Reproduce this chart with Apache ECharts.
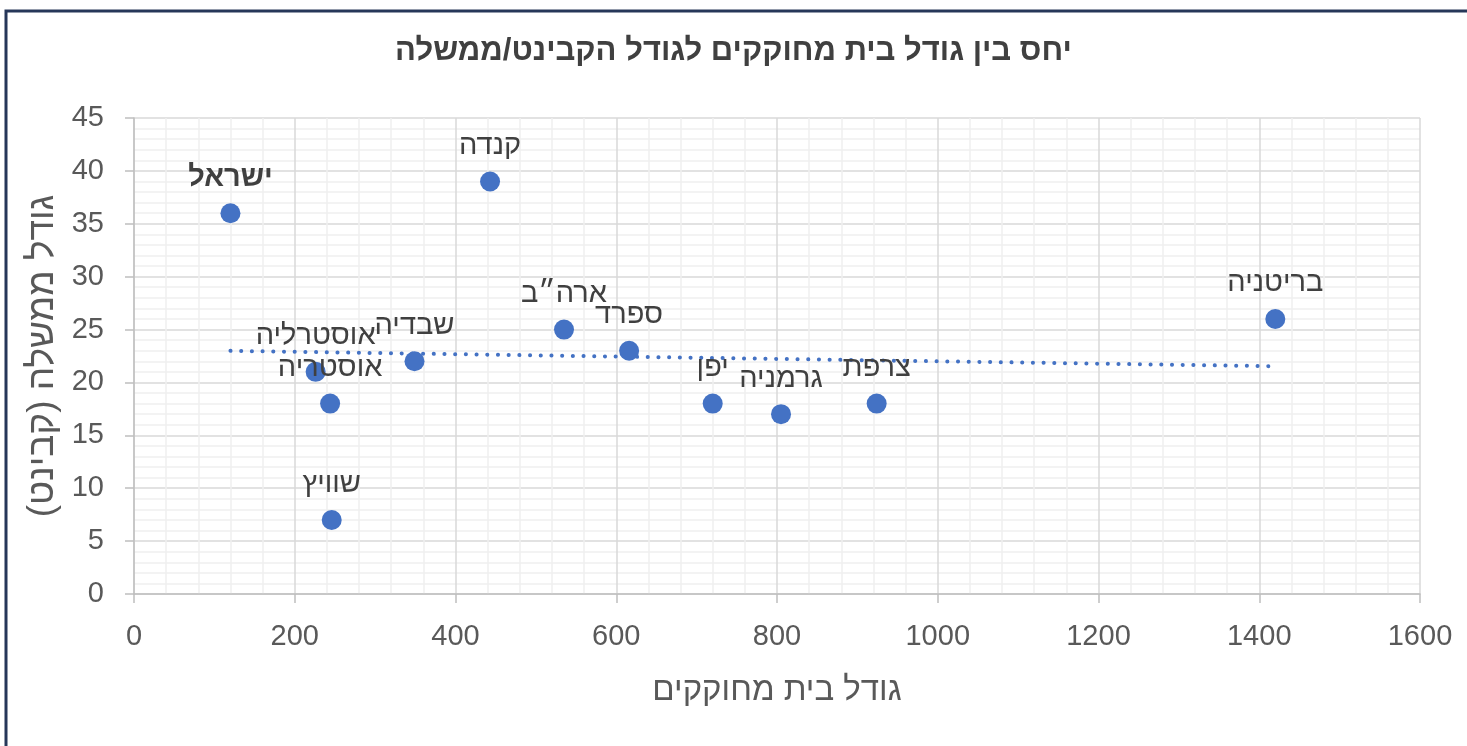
<!DOCTYPE html>
<html>
<head>
<meta charset="utf-8">
<script src="https://cdn.jsdelivr.net/npm/echarts@6/dist/echarts.min.js"></script>
<style>
  html, body { margin: 0; padding: 0; background: #ffffff; }
  #chart { width: 1467px; height: 746px; }
</style>
</head>
<body>
<div id="chart"></div>
<script>
// Countries, size of the legislature, size of the cabinet/government
const countries = ['ישראל', 'קנדה', 'ארה״ב', 'ספרד', 'יפן', 'גרמניה', 'צרפת', 'בריטניה', 'שבדיה', 'אוסטרליה', 'אוסטריה', 'שוויץ'];
const parliamentSize = [120, 443, 535, 616, 720, 805, 924, 1420, 349, 226, 244, 246];
const cabinetSize = [36, 39, 25, 23, 18, 17, 18, 26, 22, 21, 18, 7];
const highlighted = 'ישראל';

const xTicks = { min: 0, max: 1600, interval: 200 };
const yTicks = { min: 0, max: 45, interval: 5 };

const RLM = '\u200F';
const FONT = '"Liberation Sans", Arial, sans-serif';

// Least-squares linear trendline over the data range
function linearTrend(xs, ys) {
  const n = xs.length;
  const mx = xs.reduce((a, b) => a + b, 0) / n;
  const my = ys.reduce((a, b) => a + b, 0) / n;
  let sxy = 0, sxx = 0;
  for (let i = 0; i < n; i++) {
    sxy += (xs[i] - mx) * (ys[i] - my);
    sxx += (xs[i] - mx) * (xs[i] - mx);
  }
  const slope = sxy / sxx;
  const x0 = Math.min(...xs), x1 = Math.max(...xs);
  return [[x0, my + slope * (x0 - mx)], [x1, my + slope * (x1 - mx)]];
}

const points = countries.map((name, i) => ({
  name: name,
  value: [parliamentSize[i], cabinetSize[i]],
  label: name === highlighted ? { fontWeight: 'bold' } : undefined
}));

const chart = echarts.init(document.getElementById('chart'), null, { renderer: 'canvas' });

chart.setOption({
  backgroundColor: '#ffffff',
  animation: false,
  textStyle: { fontFamily: FONT },
  title: {
    text: 'יחס בין גודל בית מחוקקים לגודל הקבינט/ממשלה' + RLM,
    left: 'center',
    top: 31,
    textStyle: { fontFamily: FONT, fontSize: 31, fontWeight: 'bold', color: '#404040' }
  },
  graphic: [{
    type: 'rect',
    shape: { x: 6, y: 11, width: 1500, height: 800 },
    style: { fill: 'none', stroke: '#263759', lineWidth: 3 },
    silent: true
  }],
  grid: { left: 134, right: 47, top: 118, bottom: 152 },
  xAxis: {
    type: 'value',
    min: xTicks.min, max: xTicks.max, interval: xTicks.interval,
    name: 'גודל בית מחוקקים' + RLM,
    nameLocation: 'middle',
    nameGap: 80,
    nameTextStyle: { fontFamily: FONT, fontSize: 33, color: '#595959' },
    axisLine: { show: true, onZero: false, lineStyle: { color: '#bfbfbf', width: 1.5 } },
    axisTick: { show: true, length: 9, lineStyle: { color: '#bfbfbf', width: 1.5 } },
    axisLabel: { fontFamily: FONT, fontSize: 29, color: '#595959', margin: 28, formatter: v => String(v) },
    splitLine: { show: true, lineStyle: { color: '#d9d9d9', width: 1.5 } },
    minorTick: { show: false, splitNumber: 5 },
    minorSplitLine: { show: true, lineStyle: { color: '#efefef', width: 1.5 } }
  },
  yAxis: {
    type: 'value',
    min: yTicks.min, max: yTicks.max, interval: yTicks.interval,
    name: 'גודל ממשלה (קבינט)' + RLM,
    nameLocation: 'middle',
    nameRotate: 90,
    nameGap: 70,
    nameTextStyle: { fontFamily: FONT, fontSize: 37, color: '#595959' },
    axisLine: { show: true, lineStyle: { color: '#bfbfbf', width: 1.5 } },
    axisTick: { show: true, length: 9, lineStyle: { color: '#bfbfbf', width: 1.5 } },
    axisLabel: { fontFamily: FONT, fontSize: 29, color: '#595959', margin: 30, formatter: v => String(v) },
    splitLine: { show: true, lineStyle: { color: '#d9d9d9', width: 1.5 } },
    minorTick: { show: false, splitNumber: 5 },
    minorSplitLine: { show: true, lineStyle: { color: '#efefef', width: 1.5 } }
  },
  series: [
    {
      name: 'trend',
      type: 'line',
      data: linearTrend(parliamentSize, cabinetSize),
      symbol: 'none',
      silent: true,
      z: 3,
      lineStyle: { color: '#4472c4', width: 4, type: [0.1, 10.6], cap: 'round' }
    },
    {
      name: 'countries',
      type: 'scatter',
      data: points,
      symbol: 'circle',
      symbolSize: 20,
      z: 4,
      itemStyle: { color: '#4472c4', opacity: 1 },
      label: {
        show: true,
        position: 'top',
        distance: 11,
        formatter: p => p.name + RLM,
        fontFamily: FONT,
        fontSize: 29,
        color: '#404040'
      }
    }
  ]
});
</script>
</body>
</html>
